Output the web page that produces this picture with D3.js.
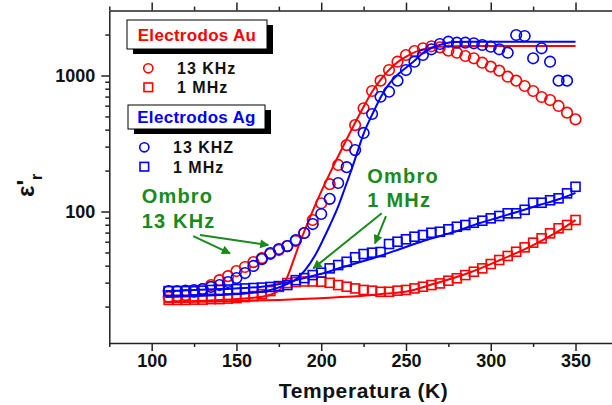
<!DOCTYPE html>
<html>
<head>
<meta charset="utf-8">
<script src="https://cdn.jsdelivr.net/npm/d3@7"></script>
<style>
  html, body { margin: 0; padding: 0; background: #fff; }
  svg { display: block; }
  text { font-family: "Liberation Sans", Arial, sans-serif; font-weight: bold; }
</style>
</head>
<body>
<svg id="chart" width="612" height="405"></svg>
<script>
// ---- Measured permittivity (real part) vs temperature ----
// Au electrodes, 13 kHz
const auT13k = [110,115,120,125,130,135,140,145,150,155,160,165,170,175,180,185,190,195,200,205,210,215,220,225,230,235,240,245,250,255,260,265,270,275,280,285,290,295,300,305,310,315,320,325,330,335,340,345,350];
const auV13k = [23.5,23.9,24.3,25.6,26.9,28.8,31.3,33.5,36.5,39.1,42.5,45.5,48.7,52.1,55.7,60.7,69.5,86.6,115,159,220,308,432,574,769,916,1097,1263,1415,1514,1585,1640,1610,1522,1471,1391,1338,1242,1161,1085,980,916,837,769,695,660,597,533,476];

// Au electrodes, 1 MHz
const auT1M = [110,115,120,125,130,135,140,145,150,155,160,165,170,175,180,185,190,195,200,205,210,215,220,225,230,235,240,245,250,255,260,265,270,275,280,285,290,295,300,305,310,315,320,325,330,335,340,345,350];
const auV1M = [22.4,22.4,22.4,22.5,22.5,22.7,22.7,22.9,23.1,23.5,23.9,24.7,26.0,27.9,29.8,30.3,30.6,30.6,30.5,29.9,28.8,28.0,27.2,26.5,26.2,25.7,25.7,26.2,26.5,27.2,28.0,28.8,29.6,31.0,32.3,34.1,36.1,38.2,41.1,44.0,47.1,50.6,54.5,59.0,63.5,69.1,75.3,79.6,86.6];

// Ag electrodes, 13 kHz
const agT13k = [110,115,120,125,130,135,140,145,150,155,160,165,170,175,180,185,190,195,200,205,210,215,220,225,230,235,240,245,250,255,260,265,270,275,280,285,290,295,300,305,310,315,320,325,330,335,340,345];
const agV13k = [26.0,26.0,26.2,26.5,26.9,27.9,28.8,30.3,32.4,35.3,39.8,44.7,49.5,53.0,55.7,61.7,69.5,80.9,95.9,124,162,212,283,378,521,698,760,916,1097,1263,1415,1558,1705,1772,1742,1742,1725,1676,1628,1558,1471,1985,1952,1338,1585,1263,916,916];

// Ag electrodes, 1 MHz
const agT1M = [110,115,120,125,130,135,140,145,150,155,160,165,170,175,180,185,190,195,200,205,210,215,220,225,230,235,240,245,250,255,260,265,270,275,280,285,290,295,300,305,310,315,320,325,330,335,340,345,350];
const agV1M = [26.0,26.0,26.0,26.2,26.2,26.5,26.5,26.7,26.9,27.2,27.4,27.6,27.9,28.3,28.8,31.3,32.4,34.1,35.5,38.2,40.4,42.7,46.1,48.7,49.8,50.4,57.7,60.0,62.5,65.3,67.2,69.8,71.0,74.0,77.3,79.6,82.7,85.6,89.1,92.7,97.0,97.0,103,116,116,121,125,136,152];

// ---- Fitted curves ----
const auFitT13k = [108,140,164,172,176,180,184,188,192,196,200,205,210,215,220,225,230,235,240,246,252,258,265,275,290,350];
const auFitV13k = [21.6,22.4,23.5,25.0,27.0,33,45,62,82,108,140,190,255,340,450,590,760,930,1100,1280,1420,1530,1600,1640,1648,1648];
const agFitT13k = [108,140,158,170,178.5,184.5,190.5,196.5,201,205.2,209.9,214,218.2,221.7,224.7,230.5,235.5,240.5,245.5,250.5,255.5,260,265,270,277.5,288,350];
const agFitV13k = [23.5,24.3,25.2,26.5,28.8,31.3,37.1,47.9,61.7,79.6,108,149,209,283,365,530,707,881,1026,1155,1300,1464,1593,1676,1763,1772,1772];
const agFitT1M = [108,140,164,178.5,187.5,199.5,211,223,234.5,246.5,258.5,270,282,293.5,305.5,317.5,329,341,350];
const agFitV1M = [26.0,26.9,27.9,29.8,31.9,34.7,38.4,42.5,47.1,53.0,59.7,66.0,73.1,82.3,91.1,101,112,124,137];
const auFitT1M = [108,140,175.5,195,215,234.5,250.5,266,286,305.5,325,338,350];
const auFitV1M = [21.6,21.8,22.4,22.9,23.6,24.7,25.8,29.3,35.0,44.0,56.7,69.5,86.6];

// ---- Axis ticks ----
const xMajorTicks = [100,150,200,250,300,350];
const xMinorTicks = [75,125,175,225,275,325,375];
const yMajorTicks = [100,1000];
const yMinorTicks = [20,30,40,50,60,70,80,90,200,300,400,500,600,700,800,900,2000];

// ---- Shoulder annotations (data coordinates) ----
const shoulderLabels = [
  { lines: ["Ombro", "13 KHz"], at: [[94.1, 114.9], [94.1, 75.3]] },
  { lines: ["Ombro", "1 MHz"],  at: [[227.2, 162.8], [227.2, 108.5]] }
];
const shoulderArrows = [
  [[124.5, 66.0], [146.2, 49.3]],
  [[128.5, 67.2], [168.8, 56.7]],
  [[235.7, 97.0], [195.3, 38.2]],
  [[238.2, 92.7], [231.7, 58.4]]
];

const RED = "#ff0000", BLUE = "#0000ff", GREEN = "#1a8a1a", AXIS = "#222";

const svg = d3.select("#chart");
const x = d3.scaleLinear().domain([75, 375]).range([109.3, 617.9]);
const y = d3.scaleLog().domain([10.8, 3000]).range([343, 10.6]);

// ---- Axes ----
function styleAxis(g) {
  g.selectAll("path.domain").attr("stroke", AXIS).attr("stroke-width", 1.5);
  g.selectAll(".tick line").attr("stroke", AXIS).attr("stroke-width", 1.5);
  g.selectAll(".tick text").attr("fill", "#111").attr("font-size", 18)
    .attr("font-family", "Liberation Sans, Arial, sans-serif").attr("font-weight", "bold");
}

const axisBottomG = svg.append("g").attr("transform", `translate(0,${y.range()[0]})`);
axisBottomG.call(d3.axisBottom(x).tickValues(xMajorTicks).tickSize(8).tickSizeOuter(0).tickPadding(3).tickFormat(d3.format("d")));
axisBottomG.append("g").call(d3.axisBottom(x).tickValues(xMinorTicks).tickSize(4).tickSizeOuter(0).tickFormat(""));
styleAxis(axisBottomG);
axisBottomG.selectAll("g g path.domain").remove();

const axisTopG = svg.append("g").attr("transform", `translate(0,${y.range()[1]})`);
axisTopG.call(d3.axisTop(x).tickValues(xMajorTicks).tickSize(8).tickSizeOuter(0).tickFormat(""));
axisTopG.append("g").call(d3.axisTop(x).tickValues(xMinorTicks).tickSize(4).tickSizeOuter(0).tickFormat(""));
styleAxis(axisTopG);
axisTopG.selectAll("g g path.domain").remove();

const axisLeftG = svg.append("g").attr("transform", `translate(${x.range()[0]},0)`);
axisLeftG.call(d3.axisLeft(y).tickValues(yMajorTicks).tickSize(8).tickSizeOuter(0).tickPadding(6).tickFormat(d3.format("d")));
axisLeftG.append("g").call(d3.axisLeft(y).tickValues(yMinorTicks).tickSize(4).tickSizeOuter(0).tickFormat(""));
styleAxis(axisLeftG);
axisLeftG.selectAll("g g path.domain").remove();

// Axis titles
svg.append("text")
  .attr("x", (x.range()[0] + x.range()[1]) / 2).attr("y", 398)
  .attr("text-anchor", "middle").attr("font-size", 21).attr("letter-spacing", 0.6)
  .attr("fill", "#111").text("Temperatura (K)");

const yTitle = svg.append("text")
  .attr("transform", "translate(34,197) rotate(-90)")
  .attr("font-size", 24).attr("fill", "#111");
yTitle.append("tspan").text("ε'");
yTitle.append("tspan").attr("font-size", 16).attr("dy", 8).text("r");

// ---- Data layers ----
const plot = svg.append("g");
const line = d3.line().x(d => x(d[0])).y(d => y(d[1])).curve(d3.curveMonotoneX);

function fitLine(T, V, color) {
  plot.append("path").datum(d3.zip(T, V))
    .attr("d", line).attr("fill", "none").attr("stroke", color).attr("stroke-width", 2);
}
function circles(T, V, color) {
  plot.append("g").selectAll("circle").data(d3.zip(T, V)).join("circle")
    .attr("cx", d => x(d[0])).attr("cy", d => y(d[1])).attr("r", 5.3)
    .attr("fill", "none").attr("stroke", color).attr("stroke-width", 1.6);
}
function squares(T, V, color) {
  const s = 9;
  plot.append("g").selectAll("rect").data(d3.zip(T, V)).join("rect")
    .attr("x", d => x(d[0]) - s / 2).attr("y", d => y(d[1]) - s / 2)
    .attr("width", s).attr("height", s)
    .attr("fill", "none").attr("stroke", color).attr("stroke-width", 1.6);
}

fitLine(auFitT1M, auFitV1M, RED);
fitLine(auFitT13k, auFitV13k, RED);
squares(auT1M, auV1M, RED);
circles(auT13k, auV13k, RED);
fitLine(agFitT1M, agFitV1M, BLUE);
fitLine(agFitT13k, agFitV13k, BLUE);
squares(agT1M, agV1M, BLUE);
circles(agT13k, agV13k, BLUE);

// ---- Legend ----
function titleBox(bx, by, w, h, label, color) {
  svg.append("rect").attr("x", bx + 6).attr("y", by + 5).attr("width", w).attr("height", h).attr("fill", "#000");
  svg.append("rect").attr("x", bx).attr("y", by).attr("width", w).attr("height", h)
    .attr("fill", "#fff").attr("stroke", "#000").attr("stroke-width", 1);
  svg.append("text").attr("x", bx + w / 2).attr("y", by + h / 2 + 6).attr("text-anchor", "middle")
    .attr("font-size", 17).attr("letter-spacing", 0.3).attr("fill", color).text(label);
}
function legendItem(mx, my, shape, color, tx, label) {
  if (shape === "circle") {
    svg.append("circle").attr("cx", mx).attr("cy", my).attr("r", 4.6)
      .attr("fill", "none").attr("stroke", color).attr("stroke-width", 1.6);
  } else {
    svg.append("rect").attr("x", mx - 4.3).attr("y", my - 4.3).attr("width", 8.6).attr("height", 8.6)
      .attr("fill", "none").attr("stroke", color).attr("stroke-width", 1.6);
  }
  svg.append("text").attr("x", tx).attr("y", my + 6).attr("font-size", 16).attr("letter-spacing", 1)
    .attr("fill", "#111").text(label);
}
titleBox(127, 20, 140, 29, "Electrodos Au", RED);
legendItem(148.3, 68.3, "circle", RED, 177, "13 KHz");
legendItem(148.3, 87.3, "square", RED, 177, "1 MHz");
titleBox(128, 105, 137, 24, "Electrodos Ag", BLUE);
legendItem(144.3, 147.3, "circle", BLUE, 173, "13 KHZ");
legendItem(144.3, 166.7, "square", BLUE, 173, "1 MHz");

// ---- Shoulder annotations ----
svg.append("defs").append("marker")
  .attr("id", "arrowhead").attr("viewBox", "0 0 10 10").attr("refX", 9).attr("refY", 5)
  .attr("markerUnits", "userSpaceOnUse").attr("markerWidth", 12).attr("markerHeight", 9)
  .attr("orient", "auto")
  .append("path").attr("d", "M0,0 L10,5 L0,10 Z").attr("fill", GREEN);

shoulderLabels.forEach(lbl => {
  lbl.lines.forEach((t, i) => {
    svg.append("text").attr("x", x(lbl.at[i][0])).attr("y", y(lbl.at[i][1]))
      .attr("font-size", 20).attr("letter-spacing", 1.2).attr("fill", GREEN).text(t);
  });
});
shoulderArrows.forEach(a => {
  svg.append("line")
    .attr("x1", x(a[0][0])).attr("y1", y(a[0][1]))
    .attr("x2", x(a[1][0])).attr("y2", y(a[1][1]))
    .attr("stroke", GREEN).attr("stroke-width", 2).attr("marker-end", "url(#arrowhead)");
});
</script>
</body>
</html>
